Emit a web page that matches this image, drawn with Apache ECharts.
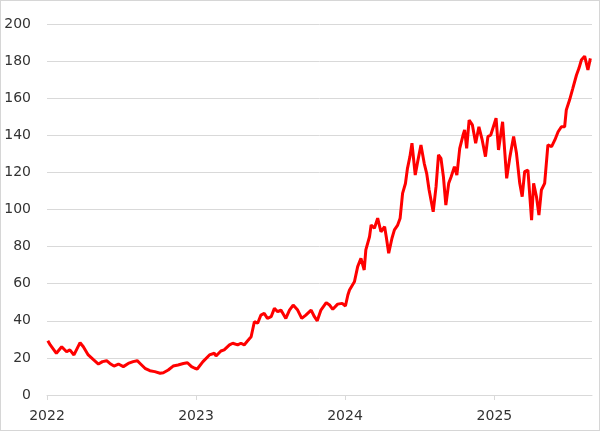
<!DOCTYPE html>
<html>
<head>
<meta charset="utf-8">
<script src="https://cdn.jsdelivr.net/npm/echarts@6/dist/echarts.min.js"></script>
<style>
  html, body { margin: 0; padding: 0; background: #fff; }
  .main { width: 600px; height: 431px; box-sizing: border-box; border: 1px solid #d6d6d6; }
</style>
</head>
<body>
<div class="main" id="chart"></div>
<script>
// dates and values
const dates = [
  '2022-01-03', '2022-01-09', '2022-01-24', '2022-02-06', '2022-02-18', '2022-02-26',
  '2022-03-08', '2022-03-23', '2022-03-31', '2022-04-12', '2022-04-24', '2022-05-07',
  '2022-05-17', '2022-05-27', '2022-06-04', '2022-06-14', '2022-06-25', '2022-07-07',
  '2022-07-19', '2022-07-31', '2022-08-10', '2022-08-17', '2022-08-29', '2022-09-10',
  '2022-09-22', '2022-10-05', '2022-10-13', '2022-10-25', '2022-11-06', '2022-11-18',
  '2022-12-01', '2022-12-11', '2022-12-21', '2022-12-29',
  '2023-01-04', '2023-01-18', '2023-02-03', '2023-02-15', '2023-02-19', '2023-03-03',
  '2023-03-11', '2023-03-24', '2023-04-01', '2023-04-13', '2023-04-21', '2023-04-29',
  '2023-05-07', '2023-05-16', '2023-05-24', '2023-06-01', '2023-06-09', '2023-06-17',
  '2023-06-25', '2023-07-04', '2023-07-12', '2023-07-20', '2023-07-28', '2023-08-09',
  '2023-08-18', '2023-08-27', '2023-09-07', '2023-09-17', '2023-09-27', '2023-10-10',
  '2023-10-18', '2023-10-25', '2023-11-03', '2023-11-16', '2023-11-24', '2023-12-02',
  '2023-12-14', '2023-12-25',
  '2024-01-02', '2024-01-08', '2024-01-12', '2024-01-24', '2024-02-01', '2024-02-09',
  '2024-02-17', '2024-02-21', '2024-03-01', '2024-03-05', '2024-03-13', '2024-03-21',
  '2024-03-29', '2024-04-07', '2024-04-11', '2024-04-17', '2024-04-25', '2024-05-01',
  '2024-05-09', '2024-05-15', '2024-05-21', '2024-05-28', '2024-06-02', '2024-06-08',
  '2024-06-13', '2024-06-21', '2024-06-27', '2024-07-05', '2024-07-13', '2024-07-19',
  '2024-07-25', '2024-08-04', '2024-08-11', '2024-08-17', '2024-08-23', '2024-08-29',
  '2024-09-04', '2024-09-11', '2024-09-17', '2024-09-25', '2024-10-01', '2024-10-08',
  '2024-10-16', '2024-10-20', '2024-10-25', '2024-10-31', '2024-11-08', '2024-11-16',
  '2024-11-24', '2024-12-02', '2024-12-10', '2024-12-16', '2024-12-23',
  '2025-01-05', '2025-01-11', '2025-01-21', '2025-01-31', '2025-02-08', '2025-02-17',
  '2025-02-24', '2025-03-04', '2025-03-10', '2025-03-16', '2025-03-24', '2025-04-02',
  '2025-04-07', '2025-04-14', '2025-04-20', '2025-04-26', '2025-05-04', '2025-05-12',
  '2025-05-21', '2025-05-29', '2025-06-06', '2025-06-14', '2025-06-22', '2025-06-26',
  '2025-07-04', '2025-07-12', '2025-07-21', '2025-07-27', '2025-08-02', '2025-08-10',
  '2025-08-18', '2025-08-24'
];
const prices = [
  29.3, 27, 22.5, 26, 23.3, 24.3,
  21.6, 28.2, 26, 21.6, 19.2, 16.7,
  18, 18.5, 17, 15.6, 16.7, 15.3,
  17, 18, 18.5, 17, 14.4, 13.1,
  12.6, 11.7, 12, 13.5, 15.6, 16.2,
  17, 17.4, 15.3, 14.4,
  14, 18, 21.6, 22.5, 21, 23.7,
  24.3, 27, 27.9, 27, 27.9, 27,
  29.1, 31.4, 39.5, 38.7, 43.1, 44,
  41.3, 42.2, 46.7, 44.9, 45.8, 41.3,
  45.8, 48.5, 45.8, 41.3, 43.1, 45.8,
  42.2, 40, 45.8, 49.8, 48.5, 46.2,
  49, 49.4,
  48, 53.9, 56.6, 61, 69.2, 73.7,
  67.4, 78.2, 85.3, 91.6, 89.9, 95.3,
  88, 90.7, 85.3, 76.4, 84.5, 89,
  91.6, 95.3, 108.7, 114, 122.2, 128.5,
  135.7, 118.6, 125.8, 134.8, 124.9, 119.5,
  110.5, 98.8, 112.3, 129.4, 127.6, 117.7,
  102.4, 114.1, 117.7, 123.1, 118.6, 133,
  140, 142.9, 133, 148.2, 145.6, 135.7,
  144.6, 137.5, 128.5, 139.3, 140.2,
  149.2, 132.1, 147.3, 116.8, 128.5, 139.3,
  130.3, 114.1, 106.9, 120.4, 121.3, 94.3,
  114.1, 106.9, 97, 110.5, 114.1, 134.8,
  133.9, 137.5, 141.9, 144.6, 144.6, 153.6,
  159, 165.3, 172.5, 176.1, 180.6, 182.7,
  175.2, 181.5
];
const axisStart = '2022-01-01';
const axisEnd = '2025-08-28';
const YEAR_MS = 365 * 24 * 3600 * 1000;

const chart = echarts.init(document.getElementById('chart'));

const option = {
  animation: false,
  grid: { left: 46, right: 7, top: 23, bottom: 35 },
  xAxis: {
    type: 'time',
    min: axisStart,
    max: axisEnd,
    splitNumber: 3,
    minInterval: YEAR_MS,
    axisLine: { lineStyle: { color: '#d9d9d9', width: 1 } },
    axisTick: { show: true, length: 5, lineStyle: { color: '#d9d9d9' } },
    axisLabel: {
      formatter: '{yyyy}',
      color: '#333',
      fontFamily: 'DejaVu Sans',
      fontSize: 14,
      margin: 14,
      showMinLabel: true,
      showMaxLabel: false
    },
    splitLine: { show: false }
  },
  yAxis: {
    type: 'value',
    min: 0,
    max: 200,
    interval: 20,
    axisLine: { show: false },
    axisTick: { show: false },
    axisLabel: { color: '#333', fontFamily: 'DejaVu Sans', fontSize: 14, margin: 16 },
    splitLine: { lineStyle: { color: '#d9d9d9', width: 1 } }
  },
  series: [
    {
      type: 'line',
      data: dates.map((d, i) => [d, prices[i]]),
      showSymbol: false,
      lineStyle: { color: '#ff0000', width: 3 },
      itemStyle: { color: '#ff0000' }
    }
  ]
};

chart.setOption(option);
</script>
</body>
</html>
